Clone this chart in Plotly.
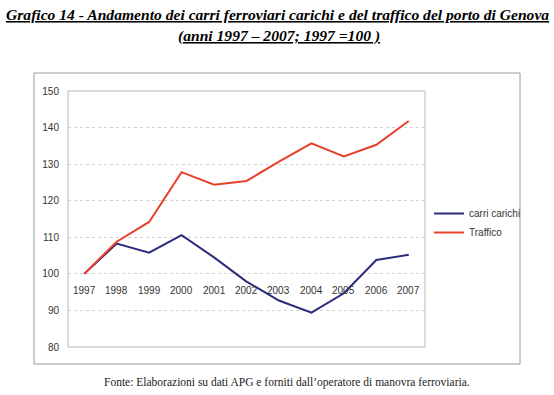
import plotly.graph_objects as go

years = ["1997", "1998", "1999", "2000", "2001", "2002", "2003", "2004", "2005", "2006", "2007"]
carri_carichi = [100, 108.3, 105.8, 110.6, 104.5, 97.9, 92.7, 89.4, 94.7, 103.8, 105.2]
traffico = [100, 108.8, 114.2, 127.8, 124.4, 125.4, 130.7, 135.7, 132.1, 135.3, 141.8]
y_ticks = [80, 90, 100, 110, 120, 130, 140, 150]

L, R, T, B = 68, 554 - 425, 91, 395 - 347
W, H = 554 - L - R, 395 - T - B

def px_x(p):
    return (p - L) / W

def px_y(p):
    return (395 - B - p) / H

fig = go.Figure()
fig.add_trace(go.Scatter(x=years, y=carri_carichi, mode="lines", name="carri carichi",
                         line=dict(color="#2b2a7c", width=2)))
fig.add_trace(go.Scatter(x=years, y=traffico, mode="lines", name="Traffico",
                         line=dict(color="#e8402a", width=2)))

# year labels sitting just below the 100 line
for i, yr in enumerate(years):
    fig.add_annotation(x=i, y=100, text=yr, showarrow=False, yshift=-17,
                       font=dict(family="Liberation Sans, Arial", size=10, color="#333333"))

# outer chart border
fig.add_shape(type="rect", xref="paper", yref="paper",
              x0=px_x(34), x1=px_x(520), y0=px_y(364), y1=px_y(73),
              line=dict(color="#9a9a9a", width=1), layer="below")
# plot area border
fig.add_shape(type="rect", xref="paper", yref="paper", x0=0, x1=1, y0=0, y1=1,
              line=dict(color="#b8b8b8", width=1), layer="below")

fig.update_layout(
    width=554, height=395,
    margin=dict(l=L, r=R, t=T, b=B),
    paper_bgcolor="white", plot_bgcolor="white",
    showlegend=True,
    legend=dict(x=px_x(429), y=px_y(199), xanchor="left", yanchor="top",
                font=dict(family="Liberation Sans, Arial", size=10, color="#333333"),
                bgcolor="rgba(0,0,0,0)", itemwidth=30, tracegroupgap=0),
    xaxis=dict(type="category", range=[-0.5, 10.5], showticklabels=False,
               showgrid=False, zeroline=False, showline=False, ticks=""),
    yaxis=dict(range=[80, 150], tickvals=y_ticks, showgrid=True,
               gridcolor="#d0d0d0", griddash="dot", gridwidth=1,
               zeroline=False, showline=False, ticks="", ticklabelstandoff=8,
               tickfont=dict(family="Liberation Sans, Arial", size=10, color="#333333")),
)

fig.add_annotation(xref="paper", yref="paper", x=px_x(277), y=px_y(14),
                   text="<i><b><u>Grafico 14 - Andamento dei carri ferroviari carichi e del traffico del porto di Genova</u></b></i>",
                   showarrow=False, xanchor="center", yanchor="middle",
                   font=dict(family="Liberation Serif, Times New Roman", size=15.6, color="black"))
fig.add_annotation(xref="paper", yref="paper", x=px_x(279), y=px_y(36),
                   text="<i><b><u>(anni 1997 – 2007; 1997 =100 )</u></b></i>",
                   showarrow=False, xanchor="center", yanchor="middle",
                   font=dict(family="Liberation Serif, Times New Roman", size=15.6, color="black"))
fig.add_annotation(xref="paper", yref="paper", x=px_x(287), y=px_y(382),
                   text="Fonte: Elaborazioni su dati APG e forniti dall’operatore di manovra ferroviaria.",
                   showarrow=False, xanchor="center", yanchor="middle",
                   font=dict(family="Liberation Serif, Times New Roman", size=11.5, color="#222222"))

fig.write_html("out.html", config={"displayModeBar": False},
               post_script="document.body.style.margin='0';")
